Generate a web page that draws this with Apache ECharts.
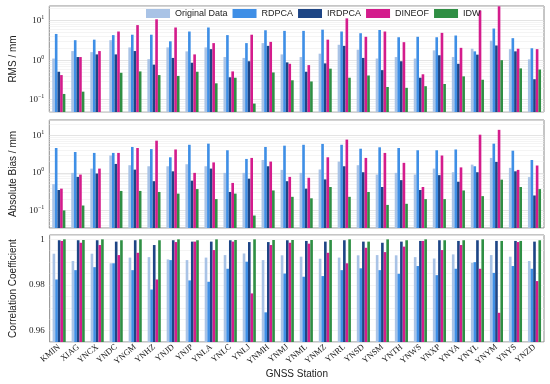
<!DOCTYPE html>
<html><head><meta charset="utf-8">
<script src="https://cdn.jsdelivr.net/npm/echarts@6/dist/echarts.min.js"></script>
<style>html,body{margin:0;padding:0;background:#fff}#c{width:550px;height:384px}</style>
</head><body><div id="c"></div>
<script>
const stations = ['KMIN','XIAG','YNCX','YNDC','YNGM','YNHZ','YNJD','YNJP','YNLA','YNLC','YNLJ','YNMH','YNMJ','YNML','YNMZ','YNRL','YNSD','YNSM','YNTH','YNWS','YNXP','YNYA','YNYL','YNYM','YNYS','YNZD'];
const seriesNames = ['Original Data','RDPCA','IRDPCA','DINEOF','IDW'];

// RMS / mm
const rmsOrig   = [1.1,1.7,1.6,3.2,2.1,1.06,2.1,1.67,2.1,1.2,1.14,2.7,1.4,1.2,1.46,2.45,1.84,1.1,1.2,1.1,1.77,1.2,1.95,3.1,1.9,1.05];
const rmsRDPCA  = [4.6,3.2,3.3,4.3,4.4,4.4,3.0,5.3,6.7,4.3,2.7,5.7,5.5,5.5,5.9,5.3,4.8,5.8,3.8,3.9,3.8,4.2,1.67,6.3,3.6,2.0];
const rmsIRDPCA = [0.51,1.2,1.4,1.4,1.7,0.77,1.14,0.86,1.9,0.37,0.94,2.3,0.88,0.51,0.83,2.3,1.14,0.56,0.94,0.36,1.33,0.81,1.38,2.35,1.67,0.33];
const rmsDINEOF = [0.42,1.2,1.7,5.3,7.7,10.8,6.7,1.4,2.7,0.52,4.4,2.9,0.81,0.75,3.3,11.4,3.9,5.3,2.85,0.44,4.9,2.05,18,23,1.95,1.9];
const rmsIDW    = [0.14,0.16,0.04,0.48,0.52,0.42,0.40,0.51,0.26,0.36,0.08,0.49,0.31,0.29,0.61,0.36,0.41,0.21,0.20,0.22,0.25,0.39,0.32,1.0,0.62,0.58];

// Absolute Bias / mm
const biasOrig   = [0.5,1.0,1.3,2.9,1.6,1.5,1.5,1.7,1.5,1.0,1.0,2.2,1.2,1.0,1.23,2.0,1.6,0.9,1.0,0.9,1.3,1.04,1.66,2.5,1.36,0.77];
const biasRDPCA  = [4.6,3.6,3.4,3.4,4.9,4.3,2.6,5.6,6.0,4.0,2.35,4.9,5.3,5.6,5.9,5.6,4.4,4.8,4.6,4.0,4.0,4.2,1.5,6.0,3.9,2.2];
const biasIRDPCA = [0.35,0.78,0.96,1.73,1.22,0.6,1.1,0.62,1.3,0.31,0.7,1.5,0.6,0.38,0.67,1.5,1.04,0.42,0.64,0.35,0.87,0.58,1.04,1.96,1.1,0.25];
const biasDINEOF = [0.38,0.9,1.3,3.4,4.6,7.2,4.2,1.0,1.9,0.54,2.5,2.0,0.78,0.74,2.6,7.7,2.5,3.4,1.85,0.42,2.9,1.4,10.4,14,1.2,1.57];
const biasIDW    = [0.1,0.135,0.03,0.33,0.33,0.31,0.28,0.37,0.2,0.28,0.073,0.34,0.23,0.21,0.42,0.23,0.31,0.14,0.15,0.2,0.2,0.34,0.24,0.66,0.42,0.37];

// Correlation Coefficient
const ccOrig   = [0.9937,0.9905,0.9937,0.9895,0.9920,0.9922,0.9912,0.9909,0.9920,0.9931,0.9938,0.9909,0.9930,0.9924,0.9915,0.9920,0.9930,0.9931,0.9930,0.9922,0.9916,0.9934,0.9897,0.9931,0.9924,0.9905];
const ccRDPCA  = [0.9824,0.9865,0.9878,0.9895,0.9865,0.9780,0.9909,0.9820,0.9814,0.9871,0.9902,0.9680,0.9850,0.9836,0.9839,0.9865,0.9873,0.9865,0.9849,0.9883,0.9843,0.9871,0.9900,0.9853,0.9883,0.9871];
const ccIRDPCA = [0.9996,0.9996,0.9996,0.9990,0.9996,0.9975,0.9996,0.9990,0.9990,0.9996,0.9988,0.9988,0.9996,0.9993,0.9990,0.9996,0.9990,0.9985,0.9990,0.9993,0.9996,0.9993,0.9996,0.9993,0.9993,0.9990];
const ccDINEOF = [0.9993,0.9985,0.9975,0.9931,0.9941,0.9824,0.9988,0.9990,0.9953,0.9990,0.9763,0.9975,0.9985,0.9981,0.9941,0.9895,0.9963,0.9944,0.9968,0.9993,0.9953,0.9975,0.9871,0.9678,0.9988,0.9817];
const ccIDW    = [1.0000,0.9997,1.0000,0.9996,1.0000,0.9996,1.0000,0.9996,1.0000,0.9997,1.0000,0.9997,0.9997,0.9997,0.9997,1.0000,0.9990,1.0000,0.9996,1.0000,0.9996,0.9996,1.0000,0.9993,0.9993,0.9996];

const colors = ['#a9c3e6','#3f8fe6','#1d4585','#d41c8c','#2f8f44'];
const panels = [
  [rmsOrig,rmsRDPCA,rmsIRDPCA,rmsDINEOF,rmsIDW],
  [biasOrig,biasRDPCA,biasIRDPCA,biasDINEOF,biasIDW],
  [ccOrig,ccRDPCA,ccIRDPCA,ccDINEOF,ccIDW]
];
const logRanges = [[0.049,23.4],[0.034,25.6]];

function minorLines(min,max){
  const out=[];
  for(let k=-2;k<=1;k++){for(let m=2;m<=9;m++){const v=m*Math.pow(10,k);if(v>min&&v<max)out.push({yAxis:v});}}
  return out;
}
const serifFont = '"Liberation Serif", "DejaVu Serif", serif';
const sansFont = '"Liberation Sans", Arial, sans-serif';
function logFmt(v){
  const l=Math.log10(v), e=Math.round(l);
  if(Math.abs(l-e)>1e-6) return '';
  return '10{s|'+(e<0?'\u2212'+(-e):e)+'}';
}
const logLabel = {fontFamily:serifFont,fontSize:9,color:'#222',formatter:logFmt,margin:5,
  showMinLabel:false,showMaxLabel:false,
  rich:{s:{fontFamily:serifFont,fontSize:6,padding:[0,0,6,0],color:'#222'}}};

const grids = [
  {left:36,right:6,top:6,height:106},
  {left:36,right:6,top:120,height:108},
  {left:36,right:6,top:235,height:107}
].map(g=>Object.assign(g,{show:true,borderColor:'#8c8c8c',borderWidth:1,backgroundColor:'transparent'}));

const xAxes = [0,1,2].map(i=>({
  type:'category',gridIndex:i,data:stations,
  axisLine:{show:false},
  axisTick:{show:true,alignWithLabel:true,inside:true,length:2,lineStyle:{color:'#8c8c8c'}},
  axisLabel: i===2 ? {show:true,rotate:40,fontFamily:serifFont,fontSize:8.5,color:'#222',margin:4,interval:0} : {show:false},
  splitLine:{show:false},
  name: i===2?'GNSS Station':'',nameLocation:'middle',nameGap:24,
  nameTextStyle:{fontFamily:sansFont,fontSize:10,color:'#222'}
}));
const yNames=['RMS / mm','Absolute Bias / mm','Correlation Coefficient'];
const yAxes = [0,1,2].map(i=>{
  const base={gridIndex:i,name:yNames[i],nameLocation:'middle',nameGap:23,
    nameTextStyle:{fontFamily:sansFont,fontSize:10,color:'#222'},
    axisLine:{show:false},axisTick:{show:false},
    splitLine:{show:true,lineStyle:{color:'#d9d9d9',width:0.7}}};
  if(i<2){
    return Object.assign(base,{type:'log',logBase:10,min:logRanges[i][0],max:logRanges[i][1],startValue:logRanges[i][0],axisLabel:logLabel});
  }
  return Object.assign(base,{type:'value',min:0.955,max:1.0019,interval:0.005,startValue:0.955,
    splitLine:{show:true,lineStyle:{color:'#ececec',width:0.6}},
    axisLabel:{fontFamily:serifFont,fontSize:9,color:'#222',margin:5,showMaxLabel:false,
      formatter:v=>{const r=Math.round(v*1000);if(r===1000)return '1';if(r===980)return '0.98';if(r===960)return '0.96';return '';}}});
});

const series=[];
panels.forEach((arrs,pi)=>{
  arrs.forEach((arr,si)=>{
    const s={type:'bar',name:seriesNames[si],xAxisIndex:pi,yAxisIndex:pi,data:arr,
      barGap:'0%',barCategoryGap:'31%',itemStyle:{color:colors[si]},z:2,clip:true,
      emphasis:{disabled:true},animation:false};
    if(si===0 && pi<2){
      s.markLine={silent:true,symbol:['none','none'],label:{show:false},z:1,animation:false,
        lineStyle:{color:'#ededed',width:0.6,type:'solid'},emphasis:{disabled:true},
        data:minorLines(logRanges[pi][0],logRanges[pi][1])};
    }
    series.push(s);
  });
});

const chart = echarts.init(document.getElementById('c'),null,{renderer:'canvas'});
chart.setOption({
  backgroundColor:'#fff',
  animation:false,
  color:colors,
  legend:{data:seriesNames,left:146,top:9,itemWidth:24,itemHeight:9,itemGap:5,padding:0,
    textStyle:{fontFamily:sansFont,fontSize:9,color:'#222'},icon:'rect'},
  grid:grids,xAxis:xAxes,yAxis:yAxes,series:series
});
</script></body></html>
